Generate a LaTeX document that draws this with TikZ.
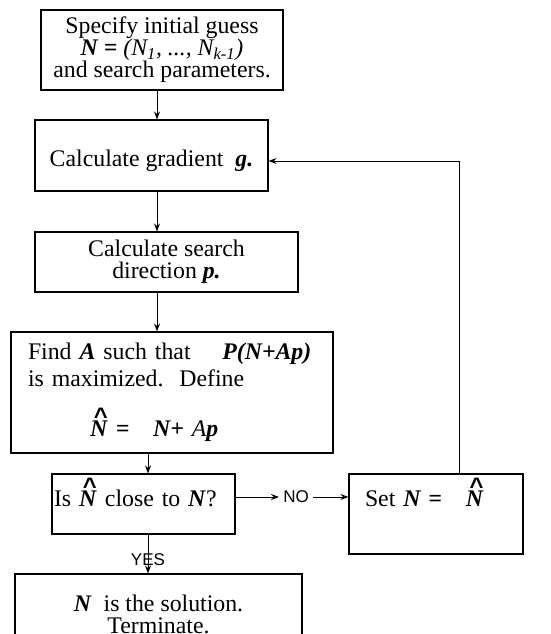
\documentclass[tikz,border=0pt]{standalone}
\usepackage{fontspec}
\setmainfont{Liberation Serif}
\newfontfamily\labelfont{Liberation Sans}
\usetikzlibrary{arrows.meta,calc}
\newcommand{\bi}[1]{\textbf{\textit{#1}}}
\newcommand{\Nhat}{\ooalign{\bi{N}\cr\hidewidth\kern0.15em\raisebox{0.5em}{\labelfont\bfseries\textasciicircum}\hidewidth\cr}}

\begin{document}
\begin{tikzpicture}[x=1pt, y=-1pt,
	box/.style={draw, line width=1.1pt, inner sep=2pt, font=\fontsize{23.8}{22}\selectfont, align=center},
	arrow/.style={line width=1pt, -{Stealth[length=8pt,width=6pt]}},
	answer/.style={font=\labelfont\fontsize{17}{17}\selectfont, inner sep=4pt}]
	\useasboundingbox (0,0) rectangle (551,634);
	\node[box, minimum width=242, minimum height=80] (init) at (162,50) {Specify initial guess\\ \bi{N =} \textit{(N\textsubscript{1}, ..., N\textsubscript{k-1})}\\ and search parameters.};
	\node[box, minimum width=233, minimum height=71, text height=26pt, text depth=5pt] (grad) at (151.5,155.5) {Calculate gradient\ \ \bi{g.}};
	\node[box, minimum width=263, minimum height=60] (dir) at (166.5,262) {Calculate search\\ direction \bi{p.}};
	\node[box, minimum width=322, minimum height=121, text width=288, align=left] (find) at (172,392.5) {Find \bi{A} such that\quad\ \bi{P(N+Ap)}\\[5pt] is maximized.\ \ Define\\[28pt] \hspace{62pt}\Nhat\ \bi{=}\quad \bi{N+}\ \textit{A}\bi{p}};
	\node[box, minimum width=183, minimum height=60, text width=179, align=left, text depth=12pt] (close) at (143.5,504) {Is \Nhat\ close to \bi{N}?};
	\node[box, minimum width=174, minimum height=80, text width=142, align=left, text depth=30pt] (set) at (436,514) {Set \bi{N =}\quad\Nhat};
	\node[box, minimum width=287, minimum height=81] (final) at (158.5,614.5) {\bi{N}\ \ is the solution.\\ Terminate.};
	% connectors
	\coordinate (upper) at (157,0);
	\coordinate (lower) at (148,0);
	\coordinate (back) at (459,161);
	\draw[arrow] (init.south -| upper) -- (grad.north -| upper);
	\draw[arrow] (grad.south -| upper) -- (dir.north -| upper);
	\draw[arrow] (dir.south -| upper) -- (find.north -| upper);
	\draw[arrow] (find.south -| lower) -- (close.north -| lower);
	\draw[arrow] (close.south -| lower) -- node[answer, pos=0.65] {YES} (final.north -| lower);
	\node[answer] (no) at (296,497) {NO};
	\draw[arrow] (close.east |- no) -- (no);
	\draw[arrow] (no) -- (set.west |- no);
	\draw[arrow] (set.north -| back) -- (back) -- (back -| grad.east);
\end{tikzpicture}
\end{document}
